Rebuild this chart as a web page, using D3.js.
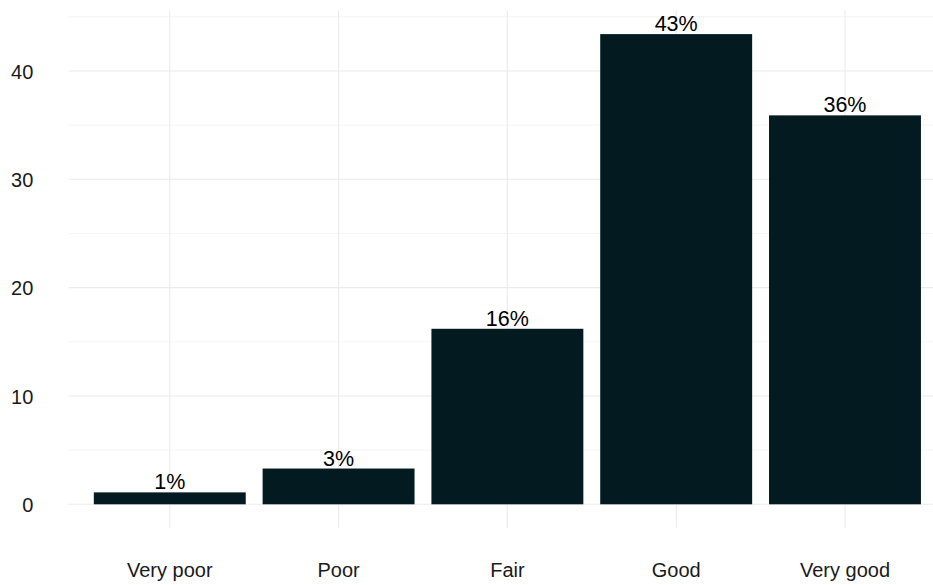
<!DOCTYPE html>
<html>
<head>
<meta charset="utf-8">
<script src="https://cdn.jsdelivr.net/npm/d3@7"></script>
<style>
  html, body { margin: 0; padding: 0; background: #ffffff; }
  svg { display: block; }
  text { font-family: "Liberation Sans", Arial, sans-serif; }
</style>
</head>
<body>
<svg id="chart" width="933" height="585"></svg>
<script>
// Self-rated health: share of respondents per category (%)
const categories = ["Very poor", "Poor", "Fair", "Good", "Very good"];
const shares = [1.1, 3.3, 16.2, 43.4, 35.9];
const yTicks = [0, 10, 20, 30, 40];
const yMinorTicks = [5, 15, 25, 35, 45];

const panel = { left: 68.5, top: 10.6, bottom: 527.8 };
const step = 168.8;

const svg = d3.select("#chart");

const x = d3.scaleBand()
  .domain(categories)
  .range([panel.left, panel.left + 5.2 * step])
  .paddingInner(0.1)
  .paddingOuter(0.15);

const yMax = d3.max(shares);
const y = d3.scaleLinear()
  .domain([-0.05 * yMax, 1.05 * yMax])
  .range([panel.bottom, panel.top]);

const panelRight = x.range()[1];

// minor horizontal grid
svg.append("g")
  .selectAll("line")
  .data(yMinorTicks.filter(v => y(v) >= panel.top))
  .join("line")
  .attr("x1", panel.left).attr("x2", panelRight)
  .attr("y1", d => y(d)).attr("y2", d => y(d))
  .attr("stroke", "#ebebeb").attr("stroke-width", 0.55);

// major horizontal grid
svg.append("g")
  .selectAll("line")
  .data(yTicks)
  .join("line")
  .attr("x1", panel.left).attr("x2", panelRight)
  .attr("y1", d => y(d)).attr("y2", d => y(d))
  .attr("stroke", "#ebebeb").attr("stroke-width", 1.1);

// major vertical grid at category centres
svg.append("g")
  .selectAll("line")
  .data(categories)
  .join("line")
  .attr("x1", d => x(d) + x.bandwidth() / 2)
  .attr("x2", d => x(d) + x.bandwidth() / 2)
  .attr("y1", panel.top).attr("y2", panel.bottom)
  .attr("stroke", "#ebebeb").attr("stroke-width", 1.1);

const rows = categories.map((c, i) => ({ c, v: shares[i] }));

// bars
svg.append("g")
  .selectAll("rect")
  .data(rows)
  .join("rect")
  .attr("x", d => x(d.c))
  .attr("width", x.bandwidth())
  .attr("y", d => y(d.v))
  .attr("height", d => y(0) - y(d.v))
  .attr("fill", "#021a20");

// value labels
svg.append("g")
  .selectAll("text")
  .data(rows)
  .join("text")
  .attr("x", d => x(d.c) + x.bandwidth() / 2)
  .attr("y", d => y(d.v) - 3)
  .attr("text-anchor", "middle")
  .attr("font-size", 21.5)
  .attr("fill", "#000000")
  .text(d => Math.round(d.v) + "%");

// y axis labels
const yAxis = d3.axisLeft(y).tickValues(yTicks).tickSize(0).tickPadding(0);
const gy = svg.append("g")
  .attr("transform", "translate(33.3,0)")
  .call(yAxis);
gy.select(".domain").remove();
gy.selectAll("text")
  .attr("font-size", 20)
  .attr("font-family", "Liberation Sans, Arial, sans-serif")
  .attr("fill", "#1a1a1a")
  .attr("dy", "0.36em");

// x axis labels
const xAxis = d3.axisBottom(x).tickSize(0).tickPadding(0);
const gx = svg.append("g")
  .attr("transform", "translate(0,577.3)")
  .call(xAxis);
gx.select(".domain").remove();
gx.selectAll("text")
  .attr("font-size", 20)
  .attr("font-family", "Liberation Sans, Arial, sans-serif")
  .attr("fill", "#1a1a1a")
  .attr("y", 0)
  .attr("dy", 0);
</script>
</body>
</html>
